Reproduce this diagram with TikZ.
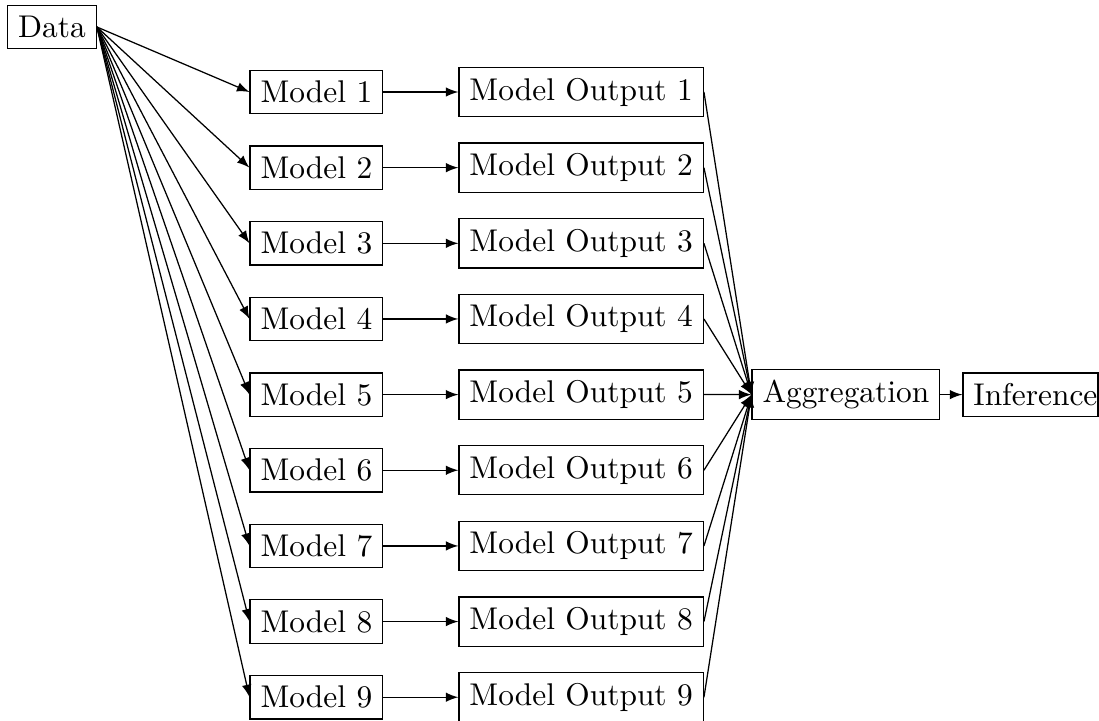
\documentclass[tikz,border=0pt]{standalone}
\usetikzlibrary{positioning}
\begin{document}
\begin{tikzpicture}[
  box/.style={draw},
  conn/.style={-latex},
]
\useasboundingbox (-16.56pt,8.6pt) rectangle (333.4pt,-220.7pt);
\node[box] (data) at (0,0) {Data};
\foreach \i in {1,...,9} {
  \node[box] (m\i) at (84.2pt,{-20.7pt-(\i-1)*24.09pt}) {Model \i};
  \node[box] (o\i) at (168.5pt,{-20.7pt-(\i-1)*24.09pt}) {Model Output \i};
}
\node[box] (agg) at (252.8pt,-117.06pt) {Aggregation};
\node[box, anchor=west] (inf) at ([xshift=7.0pt]agg.east) {\makebox[36.3pt][l]{Inference}};
\foreach \i in {1,...,9} {
  \draw[conn] (data.east) -- (m\i.west);
  \draw[conn] (m\i.east) -- (o\i.west);
  \draw[conn] (o\i.east) -- (agg.west);
}
\draw[conn] (agg.east) -- (inf.west);
\end{tikzpicture}
\end{document}
